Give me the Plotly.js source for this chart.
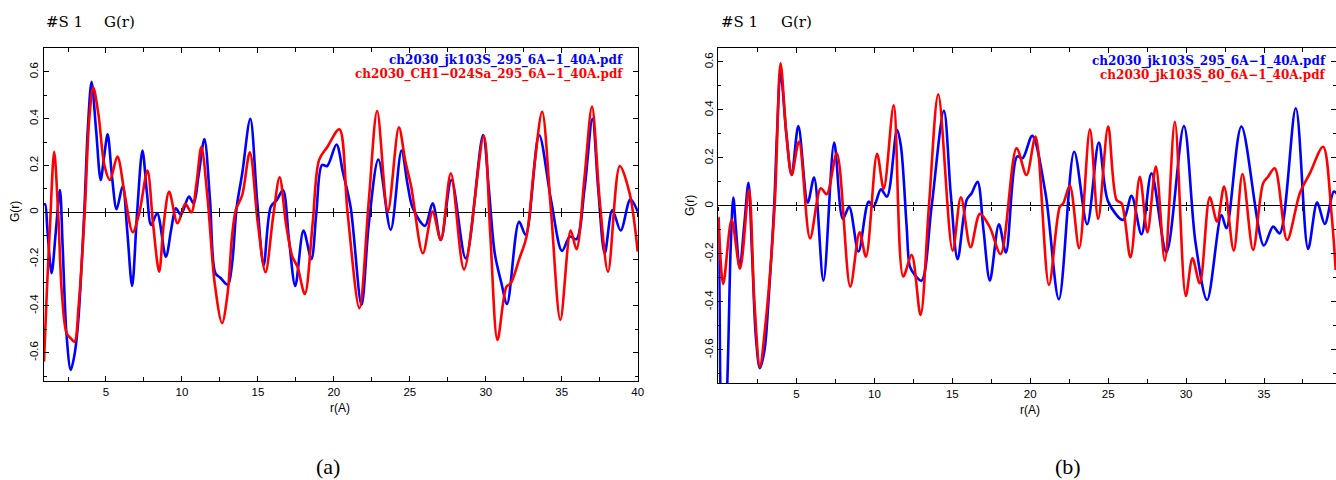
<!DOCTYPE html>
<html>
<head>
<meta charset="utf-8">
<script src="https://cdn.plot.ly/plotly-3.0.1.min.js"></script>
<style>
  html, body { margin: 0; padding: 0; background: #fff; }
  #chart { width: 1336px; height: 480px; }
</style>
</head>
<body>
<div id="chart"></div>
<script>
// Panel (a): two G(r) curves at 295 K
const rA_blue = [0.92,1.0,1.15,1.42,1.7,1.97,2.15,2.4,2.68,2.95,3.18,3.57,3.8,4.05,4.35,4.65,4.88,5.11,5.4,5.7,6.1,6.4,6.72,7.05,7.4,7.7,7.97,8.37,8.94,9.3,9.6,9.93,10.46,10.77,11.1,11.48,11.85,12.2,12.53,13.02,13.3,13.6,13.97,14.5,14.95,15.38,15.85,16.25,16.65,17.05,17.46,18.0,18.52,18.85,19.22,19.56,20.17,20.6,21.1,21.82,22.3,22.93,23.74,24.45,24.85,25.2,26.0,26.5,27.04,27.74,28.68,29.82,30.2,30.59,31.03,31.4,32.19,32.63,33.51,34.3,35.02,35.53,35.97,36.5,37.02,37.4,37.83,38.33,38.88,39.52,40.0];
const gA_blue = [0.03,0.035,-0.08,-0.26,-0.08,0.095,-0.15,-0.52,-0.674,-0.6,-0.46,0.0,0.35,0.558,0.35,0.138,0.24,0.333,0.15,0.013,0.112,-0.08,-0.315,0.0,0.264,0.08,-0.054,-0.004,-0.19,-0.07,0.017,-0.01,0.067,0.038,0.16,0.313,0.05,-0.26,-0.28,-0.31,-0.22,0.02,0.167,0.40,0.05,-0.225,0.024,0.053,0.095,-0.12,-0.315,-0.078,-0.2,0.0,0.202,0.198,0.29,0.17,0.024,-0.396,-0.05,0.226,-0.075,0.264,0.12,0.017,-0.058,0.038,-0.118,0.138,-0.197,0.33,0.1,-0.175,-0.303,-0.392,-0.04,-0.097,0.33,0.05,-0.165,-0.104,-0.115,0.1,0.40,0.1,-0.175,0.01,-0.078,0.056,0.003];
const rA_red = [0.92,1.1,1.32,1.59,1.85,2.1,2.41,2.7,2.93,3.2,3.6,3.9,4.16,4.5,4.9,5.26,5.75,6.25,6.76,7.2,7.73,8.1,8.5,8.8,9.16,9.71,10.22,10.62,10.95,11.28,11.7,12.15,12.64,13.0,13.3,13.55,13.97,14.47,15.0,15.5,16.0,16.43,16.85,17.27,17.6,18.09,18.6,19.03,19.58,20.36,20.9,21.68,22.3,22.85,23.55,24.28,24.7,25.09,25.86,26.5,27.04,27.7,28.57,29.87,30.3,30.77,31.36,31.65,32.2,32.68,33.2,33.71,34.3,34.91,35.59,35.97,36.5,36.99,37.5,38.05,38.82,39.47,40.0];
const gA_red = [-0.638,-0.35,-0.05,0.259,0.0,-0.35,-0.517,-0.54,-0.553,-0.4,0.0,0.4,0.534,0.42,0.2,0.138,0.238,0.07,-0.085,0.0,0.178,-0.05,-0.254,-0.05,0.088,-0.047,0.036,0.0,0.12,0.28,0.05,-0.3,-0.474,-0.35,-0.1,0.01,0.074,0.256,-0.05,-0.256,-0.02,0.15,-0.05,-0.19,-0.232,-0.349,-0.05,0.224,0.28,0.355,0.0,-0.41,0.05,0.433,0.003,0.363,0.22,0.11,-0.175,0.003,-0.118,0.167,-0.244,0.326,-0.1,-0.546,-0.318,-0.303,-0.2,-0.104,0.2,0.43,0.0,-0.46,-0.078,-0.158,0.15,0.452,0.05,-0.254,0.198,0.081,-0.168];

// Panel (b): 295 K against 80 K
const rB_blue = [0.0,0.06,0.13,0.3,0.5,0.62,0.78,0.95,1.12,1.36,1.65,1.92,2.15,2.4,2.65,2.95,3.2,3.57,3.75,3.98,4.35,4.69,5.12,5.72,6.13,6.73,7.42,7.97,8.38,8.98,9.63,9.95,10.42,10.81,11.45,11.7,12.07,12.28,12.6,13.03,13.67,14.46,14.9,15.34,15.92,16.24,16.62,17.0,17.41,17.99,18.44,19.16,19.51,20.13,20.98,21.84,22.82,23.65,24.4,25.0,25.96,26.5,27.14,27.78,28.74,29.86,30.6,31.35,32.27,32.59,33.55,34.99,35.58,36.01,37.04,37.83,38.41,38.9,39.48,39.7];
const gB_blue = [-0.05,-0.35,-0.8,-1.05,-0.85,-0.6,-0.17,0.035,-0.1,-0.26,-0.08,0.097,-0.2,-0.55,-0.676,-0.6,-0.4,0.0,0.3,0.56,0.3,0.129,0.333,0.014,0.118,-0.311,0.264,-0.054,-0.003,-0.19,0.018,-0.003,0.069,0.039,0.317,0.25,-0.086,-0.253,-0.288,-0.311,-0.003,0.397,0.05,-0.222,0.025,0.053,0.101,-0.1,-0.311,-0.076,-0.194,0.206,0.199,0.292,0.053,-0.389,0.226,-0.076,0.264,0.018,-0.058,0.042,-0.118,0.136,-0.193,0.333,-0.15,-0.392,-0.038,-0.093,0.331,-0.165,-0.086,-0.114,0.407,-0.179,0.015,-0.075,0.06,0.05];
const rB_red = [0.0,0.3,0.84,1.38,1.95,2.3,2.65,3.0,3.6,3.98,4.35,4.69,5.16,5.87,6.56,6.94,7.59,8.45,9.05,9.46,10.17,10.6,11.24,11.85,12.39,12.96,13.5,14.1,15.02,15.55,16.17,16.77,17.41,18.1,19.12,19.76,20.34,21.2,21.9,22.12,22.54,23.14,23.83,24.36,25.0,25.54,25.86,26.43,27.03,27.52,28.06,28.64,29.28,29.98,30.41,30.88,31.52,31.99,32.44,33.06,33.62,34.3,34.94,35.26,35.69,36.48,37.3,37.94,38.79,39.33,39.6];
const gB_red = [-0.045,-0.325,-0.058,-0.26,0.067,-0.4,-0.67,-0.5,0.0,0.594,0.3,0.129,0.268,-0.135,0.074,0.049,0.219,-0.336,-0.11,-0.211,0.217,0.071,0.419,-0.294,-0.204,-0.454,0.0,0.465,-0.186,0.036,-0.172,-0.033,-0.089,-0.2,0.24,0.129,0.289,-0.329,-0.003,0.011,0.085,-0.176,0.319,-0.054,0.331,0.025,0.011,-0.214,0.122,-0.11,0.164,-0.228,0.351,-0.375,-0.218,-0.322,0.036,-0.065,0.081,-0.186,0.133,-0.183,0.094,0.122,0.157,-0.142,0.053,0.136,0.247,-0.031,-0.267];

// Text
const panelHeader = ['#S 1', 'G(r)'];
const legendA = ['ch2030_jk103S_295_6A\u22121_40A.pdf', 'ch2030_CH1\u2212024Sa_295_6A\u22121_40A.pdf'];
const legendB = ['ch2030_jk103S_295_6A\u22121_40A.pdf', 'ch2030_jk103S_80_6A\u22121_40A.pdf'];
const xTicksA = [5, 10, 15, 20, 25, 30, 35, 40];
const xTicksB = [5, 10, 15, 20, 25, 30, 35];
const yTicks = [-0.6, -0.4, -0.2, 0, 0.2, 0.4, 0.6];
const yTickText = ['-0.6', '-0.4', '-0.2', '0', '0.2', '0.4', '0.6'];
const xTitle = 'r(A)';
const yTitle = 'G(r)';
const captions = ['(a)', '(b)'];

const W = 1336, H = 480;
const BLUE = '#0000ff', RED = '#ff0000';
const tickFont = { family: 'Liberation Sans Narrow, Liberation Sans, Arial', size: 11.5, color: '#000' };

// Plot-area geometry in pixels
const panels = [
  { x0: 44, x1: 638, yTop: 48.3, yBot: 380.7, xr: [0.92, 40.02], yr: [-0.7197, 0.701] },
  { x0: 718.3, x1: 1336, yTop: 48.3, yBot: 383.3, xr: [-0.016, 39.62], yr: [-0.739, 0.657] }
];

function curve(x, y, color, xa, ya) {
  return { type: 'scatter', mode: 'lines', x: x, y: y, xaxis: xa, yaxis: ya,
           line: { color: color, width: 2.6, shape: 'spline', smoothing: 0.9 },
           hoverinfo: 'skip', showlegend: false };
}
function empty(xa, ya) {
  return { type: 'scatter', mode: 'lines', x: [], y: [], xaxis: xa, yaxis: ya,
           hoverinfo: 'skip', showlegend: false };
}

const data = [
  curve(rA_blue, gA_blue, BLUE, 'x', 'y'),
  curve(rA_red, gA_red, RED, 'x', 'y'),
  curve(rB_blue, gB_blue, BLUE, 'x2', 'y2'),
  curve(rB_red, gB_red, RED, 'x2', 'y2'),
  empty('x3', 'y'), empty('x4', 'y'), empty('x5', 'y2'), empty('x6', 'y2')
];

function frameX(p, ticks) {
  return {
    domain: [p.x0 / W, p.x1 / W], range: p.xr, showgrid: false, zeroline: false,
    showline: true, linecolor: '#000', linewidth: 1, mirror: 'ticks',
    ticks: 'inside', ticklen: 5, tickcolor: '#000', tickwidth: 1,
    tickmode: 'array', tickvals: ticks, ticktext: ticks.map(String),
    minor: { tickmode: 'linear', tick0: 0, dtick: 2.5, ticks: 'inside', ticklen: 4, tickcolor: '#000' },
    tickfont: tickFont, fixedrange: true
  };
}
function frameY(p) {
  return {
    domain: [(H - p.yBot) / H, (H - p.yTop) / H], range: p.yr, showgrid: false,
    zeroline: true, zerolinecolor: '#000', zerolinewidth: 1,
    showline: true, linecolor: '#000', linewidth: 1, mirror: 'ticks',
    ticks: 'inside', ticklen: 5, tickcolor: '#000', tickwidth: 1,
    tickmode: 'array', tickvals: yTicks, ticktext: yTickText, tickangle: -90,
    minor: { tickmode: 'linear', tick0: 0, dtick: 0.1, ticks: 'inside', ticklen: 3, tickcolor: '#000' },
    tickfont: tickFont, fixedrange: true
  };
}
// Tick marks that cross the G(r)=0 line
function zeroTicks(p, base, side) {
  const frac = (0 - p.yr[0]) / (p.yr[1] - p.yr[0]);
  const d0 = (H - p.yBot) / H, d1 = (H - p.yTop) / H;
  return {
    overlaying: base, anchor: 'free', position: d0 + frac * (d1 - d0), range: p.xr,
    showline: false, showgrid: false, zeroline: false, showticklabels: false,
    ticks: side, ticklen: 4, tickcolor: '#000', tickwidth: 1,
    tickmode: 'linear', tick0: 0, dtick: 2.5, fixedrange: true
  };
}

const annotations = [];
function txt(x, y, text, font, xanchor, textangle) {
  annotations.push({ xref: 'paper', yref: 'paper', x: x / W, y: 1 - y / H, text: text,
    showarrow: false, xanchor: xanchor || 'left', yanchor: 'middle', font: font,
    textangle: textangle || 0, borderpad: 0 });
}
const headFont = { family: 'DejaVu Serif', size: 15, color: '#000' };
const legFont = (c) => ({ family: 'DejaVu Serif', size: 12, color: c, weight: 'bold' });
const axFont = { family: 'Liberation Sans Narrow, Liberation Sans, Arial', size: 12, color: '#000' };
const capFont = { family: 'Liberation Serif', size: 22, color: '#000' };

// panel (a) text
txt(45, 22, panelHeader[0], headFont);
txt(103, 22, panelHeader[1], headFont);
txt(624, 60, legendA[0], legFont(BLUE), 'right');
txt(624, 74, legendA[1], legFont(RED), 'right');
txt(340, 408, xTitle, axFont, 'center');
txt(15, 212, yTitle, axFont, 'center', -90);
txt(328, 466, captions[0], capFont, 'center');
// panel (b) text
txt(720, 22, panelHeader[0], headFont);
txt(780, 22, panelHeader[1], headFont);
txt(1327, 61, legendB[0], legFont(BLUE), 'right');
txt(1327, 75, legendB[1], legFont(RED), 'right');
txt(1030, 410, xTitle, axFont, 'center');
txt(690, 206, yTitle, axFont, 'center', -90);
txt(1068, 466, captions[1], capFont, 'center');

const layout = {
  width: W, height: H, margin: { l: 0, r: 0, t: 0, b: 0 },
  paper_bgcolor: '#fff', plot_bgcolor: '#fff', showlegend: false,
  xaxis: frameX(panels[0], xTicksA), yaxis: frameY(panels[0]),
  xaxis2: Object.assign(frameX(panels[1], xTicksB), { anchor: 'y2' }),
  yaxis2: Object.assign(frameY(panels[1]), { anchor: 'x2' }),
  xaxis3: zeroTicks(panels[0], 'x', 'outside'),
  xaxis4: zeroTicks(panels[0], 'x', 'inside'),
  xaxis5: zeroTicks(panels[1], 'x2', 'outside'),
  xaxis6: zeroTicks(panels[1], 'x2', 'inside'),
  annotations: annotations
};

Plotly.newPlot('chart', data, layout, { staticPlot: true, displayModeBar: false });
</script>
</body>
</html>
